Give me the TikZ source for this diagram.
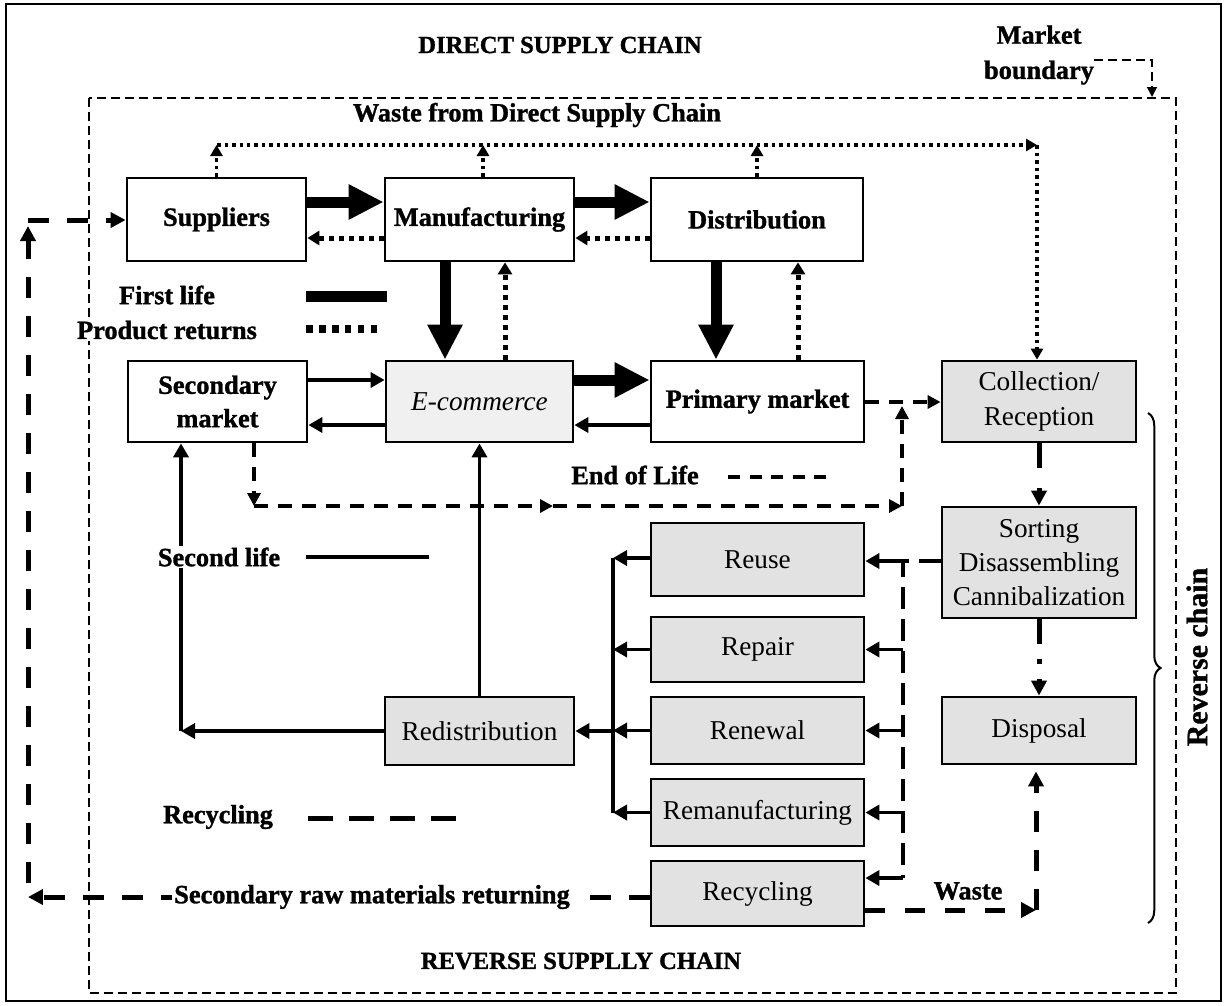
\documentclass[tikz,border=0pt]{standalone}
\usepackage{fontspec}
\setmainfont{Liberation Serif}[BoldFeatures={FakeBold=1.2}]
\usetikzlibrary{arrows.meta,decorations.pathreplacing}
\definecolor{boxgrey}{HTML}{E2E2E2}
\definecolor{ecomgrey}{HTML}{F0F0F0}
\tikzset{
  stage/.style = {draw=black, line width=1.6pt, inner sep=0pt, align=center,
    font=\fontsize{15}{19}\selectfont\bfseries},% direct chain box
  rstage/.style = {stage, fill=boxgrey,
    font=\fontsize{15.5}{19.5}\selectfont},% reverse chain box
  lbl/.style = {inner sep=1pt, align=center,
    font=\fontsize{15}{20}\selectfont\bfseries},% free text
  headline/.style = {inner sep=0pt, font=\fontsize{14}{17}\selectfont\bfseries},
  firstlife/.style = {-{Triangle[length=0.7cm,width=0.66cm]}, line width=0.22cm},
  returnflow/.style = {-{Triangle[length=0.24cm,width=0.28cm]}, line width=0.1cm,
    dash pattern=on 0.1cm off 0.1cm},% product returns
  wasteflow/.style = {-{Triangle[length=0.22cm,width=0.24cm]}, line width=0.07cm,
    dash pattern=on 0.07cm off 0.08cm},
  secondlife/.style = {-{Triangle[length=0.28cm,width=0.3cm]}, line width=0.07cm},
  eolflow/.style = {-{Triangle[length=0.26cm,width=0.26cm]}, line width=0.07cm,
    dash pattern=on 0.28cm off 0.2cm},% end of life
  recflow/.style = {-{Triangle[length=0.3cm,width=0.3cm]}, line width=0.1cm,
    dash pattern=on 0.42cm off 0.36cm},% recycling
  sortflow/.style = {line width=0.09cm, dash pattern=on 0.44cm off 0.2cm},
  boundary/.style = {line width=0.03cm, dash pattern=on 0.18cm off 0.1cm}
}
\begin{document}
\begin{tikzpicture}[x=0.02cm, y=-0.02cm]
\useasboundingbox (0,0) rectangle (1226,1005);
\draw[line width=0.04cm] (6,4) rectangle (1221,1001);
\draw[boundary] (89,98) rectangle (1176,993);
% direct chain
\node[stage, minimum width=3.58cm, minimum height=1.66cm] (sup) at (216.5,219.5) {Suppliers};
\node[stage, minimum width=3.78cm, minimum height=1.66cm] (man) at (479.5,219.5) {Manufacturing};
\node[stage, minimum width=4.24cm, minimum height=1.66cm] (dis) at (757,219.5) {Distribution};
\node[stage, minimum width=3.58cm, minimum height=1.62cm] (secm) at (217.5,401.5) {Secondary\\market};
\node[stage, fill=ecomgrey, font=\fontsize{15.5}{19.5}\selectfont\itshape,
  minimum width=3.74cm, minimum height=1.62cm] (ecom) at (479.5,401.5) {E-commerce};
\node[stage, minimum width=4.26cm, minimum height=1.62cm] (prim) at (757.5,401.5) {Primary market};
% reverse chain
\node[rstage, minimum width=3.88cm, minimum height=1.62cm] (coll) at (1039,401.5) {Collection/\\Reception};
\node[rstage, minimum width=3.88cm, minimum height=2.22cm] (sort) at (1039,562.5) {Sorting\\Disassembling\\Cannibalization};
\node[rstage, minimum width=3.88cm, minimum height=1.34cm] (disp) at (1039,730.5) {Disposal};
\node[rstage, minimum width=4.26cm, minimum height=1.46cm] (reuse) at (757.5,559.5) {Reuse};
\node[rstage, minimum width=4.26cm, minimum height=1.30cm] (repair) at (757.5,649.5) {Repair};
\node[rstage, minimum width=4.26cm, minimum height=1.34cm] (renew) at (757.5,730.5) {Renewal};
\node[rstage, minimum width=4.26cm, minimum height=1.34cm] (reman) at (757.5,812.5) {Remanufacturing};
\node[rstage, minimum width=4.26cm, minimum height=1.30cm] (recyc) at (757.5,893.5) {Recycling};
\node[rstage, minimum width=3.78cm, minimum height=1.36cm] (redis) at (479.5,731) {Redistribution};
% corners
\coordinate (wl) at (217,145);
\coordinate (wr) at (1037,145);
\coordinate (eA) at (254,506);
\coordinate (eB) at (553,506);
\coordinate (eC) at (902,506);
\coordinate (eD) at (902,406);
\coordinate (sA) at (903,561);
\coordinate (sB) at (903,878);
\coordinate (cA) at (613,558);
\coordinate (cB) at (613,812.5);
\coordinate (slA) at (181,731);
\coordinate (rA) at (28,897);
\coordinate (rB) at (28,883);
\coordinate (rC) at (28,220);
\coordinate (rD) at (28,226);
\coordinate (wA) at (1036,910);
\coordinate (mbA) at (1152,60);
% first life
\draw[firstlife] (sup.east |- 0,202) -- (man.west |- 0,202);
\draw[firstlife] (man.east |- 0,202) -- (dis.west |- 0,202);
\draw[firstlife] (man.south -| 445,0) -- (ecom.north -| 445,0);
\draw[firstlife] (dis.south -| 716,0) -- (prim.north -| 716,0);
\draw[firstlife] (ecom.east |- 0,380) -- (prim.west |- 0,380);
% product returns
\draw[returnflow] (man.west |- 0,238) -- (sup.east |- 0,238);
\draw[returnflow] (dis.west |- 0,238) -- (man.east |- 0,238);
\draw[returnflow] (ecom.north -| 505,0) -- (man.south -| 505,0);
\draw[returnflow] (prim.north -| 798,0) -- (dis.south -| 798,0);
% waste of the direct chain
\draw[wasteflow] (sup.north) -- (sup.north |- wl);
\draw[wasteflow] (man.north -| 483,0) -- (wl -| 483,0);
\draw[wasteflow] (dis.north) -- (dis.north |- wl);
\draw[wasteflow] (wl) -- (wr);
\draw[wasteflow] (wr) -- (wr |- coll.north);
% second life
\draw[secondlife] (secm.east |- 0,380) -- (ecom.west |- 0,380);
\draw[secondlife] (ecom.west |- 0,425) -- (secm.east |- 0,425);
\draw[secondlife] (prim.west |- 0,425) -- (ecom.east |- 0,425);
% end of life
\draw[eolflow] (secm.south -| eA) -- (eA);
\draw[eolflow] (eA) -- (eB);
\draw[eolflow] (eB) -- (eC);
\draw[eolflow] (eC) -- (eD);
\draw[eolflow] (prim.east |- 0,402) -- (coll.west |- 0,402);
\draw[recflow, dash pattern=on 0.5cm off 0.4cm] (coll.south) -- (sort.north);
\draw[recflow, dash pattern=on 0.5cm off 0.3cm on 0.1cm off 0.3cm] (sort.south) -- (disp.north);
% sorting to the options
\draw[sortflow] (sort.west |- sA) -- (sA) -- (sB);
\draw[secondlife] (sA) -- (reuse.east |- sA);
\draw[secondlife] (sA |- repair.east) -- (repair.east);
\draw[secondlife] (sA |- renew.east) -- (renew.east);
\draw[secondlife] (sA |- reman.east) -- (reman.east);
\draw[secondlife] (sB) -- (recyc.east |- sB);
\draw[secondlife] (reuse.west |- cA) -- (cA);
\draw[line width=0.07cm] (cA) -- (cB);
\draw[secondlife] (repair.west) -- (cA |- repair.west);
\draw[secondlife] (renew.west) -- (cA |- renew.west);
\draw[secondlife] (reman.west) -- (cB);
\draw[secondlife] (cA |- redis.east) -- (redis.east);
\draw[secondlife] (redis.north) -- (redis.north |- ecom.south);
\draw[secondlife] (redis.west) -- (slA);
\draw[secondlife] (slA) -- (slA |- secm.south);
% recycling
\draw[recflow] (recyc.west |- rA) -- (rA);
\draw[recflow] (rB) -- (rD);
\draw[recflow] (rC) -- (sup.west |- rC);
\draw[recflow, dash pattern=on 0.4cm off 0.4cm] (recyc.east |- wA) -- (wA);
\draw[recflow] (wA) -- ([yshift=-0.12cm]wA |- disp.south);
\draw[boundary, -{Triangle[length=0.2cm,width=0.2cm]}] (1094,60) -- (mbA) -- (mbA |- 0,97);
\draw[decorate, decoration={brace, amplitude=0.25cm}, line width=0.04cm] (1148,413) -- (1148,923);
% texts
\node[headline] (dsc) at (560,45) {DIRECT SUPPLY CHAIN};
\node[headline] (rsc) at (581,961) {REVERSE SUPPLLY CHAIN};
\node[lbl] (mb) at (1039,55) {Market\\boundary};
\node[lbl] (wdsc) at (537,115) {Waste from Direct Supply Chain};
\node[lbl] (waste) at (968,891) {Waste};
\node[lbl, fill=white] (srm) at (372,897) {Secondary raw materials returning};
\node[lbl, rotate=90, font=\fontsize{17}{20}\selectfont\bfseries] (rc) at (1197,657) {Reverse chain};
% legend
\node[lbl, fill=white] (lfirst) at (167,295) {First life};
\node[lbl, fill=white] (lret) at (167,330) {Product returns};
\node[lbl, fill=white] (lsec) at (219,557) {Second life};
\node[lbl] (leol) at (635,475) {End of Life};
\node[lbl] (lrec) at (218,817) {Recycling};
\draw[firstlife, -] (306,296) -- (387,296);
\draw[line width=0.16cm, dash pattern=on 0.13cm off 0.13cm] (306,329) -- (380,329);
\draw[secondlife, -] (306,557) -- (429,557);
\draw[eolflow, -, dash pattern=on 0.24cm off 0.19cm] (728,477) -- (827,477);
\draw[recflow, -, dash pattern=on 0.5cm off 0.32cm] (308,818) -- (457,818);
\end{tikzpicture}
\end{document}
